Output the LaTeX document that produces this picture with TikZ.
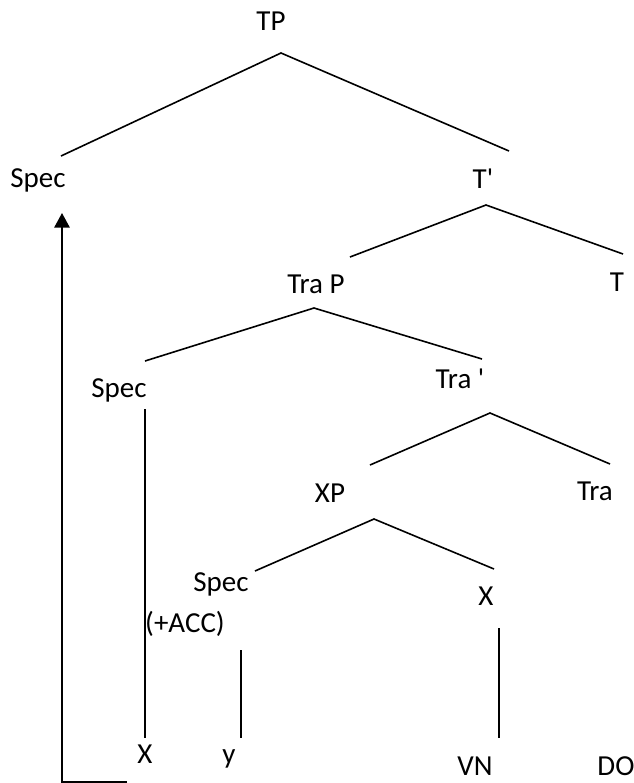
\documentclass[tikz,border=0pt]{standalone}
\usepackage{fontspec}
\setmainfont{Carlito}
\usetikzlibrary{arrows.meta}

\begin{document}
\begin{tikzpicture}[x=0.75pt,y=0.75pt,yscale=-1,xscale=1,
  lbl/.style={anchor=base,inner sep=0pt,font=\fontsize{21.75}{26}\selectfont},
  branch/.style={line width=1.2pt},
  move/.style={line width=1.6pt}]
%set diagram left start at 0, and has height of 783
\useasboundingbox (0,0) rectangle (634,783);

% Text Node
\node[lbl] (tp) at (271,30) {TP};
% Text Node
\node[lbl] (spec1) at (38,187) {Spec};
% Text Node
\node[lbl] (tbar) at (483,188) {T\textquotesingle};
% Text Node
\node[lbl] (trap) at (316,293) {Tra P};
% Text Node
\node[lbl] (t) at (617,291) {T};
% Text Node
\node[lbl] (spec2) at (119,397) {Spec};
% Text Node
\node[lbl] (trabar) at (460,388) {Tra \textquotesingle};
% Text Node
\node[lbl] (xp) at (330,502) {XP};
% Text Node
\node[lbl] (tra) at (595,500) {Tra};
% Text Node
\node[lbl] (spec3) at (221,591) {Spec};
% Text Node
\node[lbl] (xbar) at (486,605) {X};
% Text Node
\node[lbl] (acc) at (185,632) {(+ACC)};
% Text Node
\node[lbl] (x) at (145,763) {X};
% Text Node
\node[lbl] (y) at (229,763) {y};
% Text Node
\node[lbl] (vn) at (475,775) {VN};
% Text Node
\node[lbl] (do) at (616,775) {DO};

% branch points
\coordinate (tp-a) at (281,53);
\coordinate (tp-l) at (61,156);
\coordinate (tp-r) at (509,151);
\coordinate (tbar-a) at (486,205);
\coordinate (tbar-l) at (350,257);
\coordinate (tbar-r) at (623,254);
\coordinate (trap-a) at (314,308);
\coordinate (trap-l) at (145,361);
\coordinate (trap-r) at (482,359);
\coordinate (trabar-a) at (490,413);
\coordinate (trabar-l) at (370,465);
\coordinate (trabar-r) at (610,464);
\coordinate (xp-a) at (374,519);
\coordinate (xp-l) at (255,571);
\coordinate (xp-r) at (494,569);
\coordinate (spec2-t) at (145,409);
\coordinate (x-t) at (145,738);
\coordinate (acc-t) at (241,650);
\coordinate (y-t) at (241,738);
\coordinate (xbar-t) at (499,628);
\coordinate (vn-t) at (499,738);
\coordinate (mv-s) at (127,782);
\coordinate (mv-c) at (62,782);
\coordinate (mv-e) at (62,213);

%Straight Lines
\draw[branch] (tp-l) -- (tp-a) -- (tp-r);
%Straight Lines
\draw[branch] (tbar-l) -- (tbar-a) -- (tbar-r);
%Straight Lines
\draw[branch] (trap-l) -- (trap-a) -- (trap-r);
%Straight Lines
\draw[branch] (trabar-l) -- (trabar-a) -- (trabar-r);
%Straight Lines
\draw[branch] (xp-l) -- (xp-a) -- (xp-r);

%Straight Lines
\draw[branch] (spec2-t) -- (x-t);
\draw[branch] (acc-t) -- (y-t);
\draw[branch] (xbar-t) -- (vn-t);

%Straight Lines [movement]
\draw[move,-{Triangle[length=11pt,width=11.5pt]}] (mv-s) -- (mv-c) -- (mv-e);

\end{tikzpicture}
\end{document}
